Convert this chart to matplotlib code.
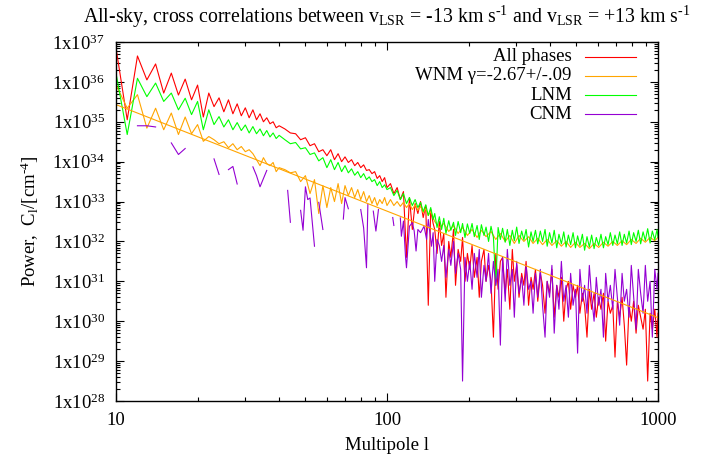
import matplotlib
matplotlib.use("Agg")
import matplotlib.pyplot as plt
import matplotlib.ticker as ticker
import numpy as np

plt.rcParams['font.family'] = ['Liberation Serif', 'DejaVu Serif']
plt.rcParams['mathtext.fontset'] = 'custom'
plt.rcParams['mathtext.rm'] = 'Liberation Serif'
plt.rcParams['mathtext.it'] = 'Liberation Serif:italic'

# multipoles (low l every integer, then coarser)
ell_low = [10, 11, 12, 13, 14, 15, 16, 17, 18, 19, 20, 21, 22, 23, 24, 25, 26, 27, 28, 29,
           30, 31, 32, 33, 34, 35, 36, 37, 38, 39, 40, 42, 44, 46, 48, 50, 52, 54, 56, 58]
ell_mid = [60, 62, 64, 66, 68, 70, 72, 74, 76, 78, 80, 82, 84, 86, 88, 90, 92, 94, 96, 98, 100,
           103, 106, 109, 112, 115, 118, 121, 124, 127, 130, 133, 136, 139, 142, 145, 148]
ell_hi = [150, 153, 156, 159, 162, 165, 169, 172, 176, 179, 183, 187, 190, 194, 198,
          202, 206, 210, 215, 219, 223, 228, 232, 237, 242, 247, 252, 257, 262,
          267, 273, 278, 284, 290, 295, 301, 307, 314, 320, 326, 333, 340, 346, 353,
          360, 368, 375, 383, 390, 398, 406, 414, 423, 431, 440, 449, 458, 467, 476, 486,
          496, 505, 515, 526, 536, 547, 558, 569, 581, 592, 604, 616, 629, 641, 654, 667,
          681, 694, 708, 722, 737, 751, 766, 782, 797, 813, 830, 846, 863, 881, 898, 916,
          935, 953, 973, 992, 1000]

# log10 of the power
all_low = [36.85, 35.05, 36.65, 36.05, 36.45, 35.72, 36.22, 35.67, 36.07, 35.55, 35.92, 35.12,
           35.72, 35.38, 35.60, 35.25, 35.55, 35.20, 35.45, 35.15, 35.35, 35.10, 35.30, 35.05,
           35.20, 35.00, 35.10, 34.95, 35.00, 34.85, 34.90,
           34.82, 34.72, 34.70, 34.55, 34.60, 34.40, 34.45, 34.25, 34.30]
all_mid = [34.15, 34.30, 34.05, 34.20, 34.00, 34.12, 33.98, 34.05, 33.90, 33.98, 33.85, 33.92,
           33.78, 33.80, 33.70, 33.75, 33.58, 33.65, 33.50, 33.60, 33.35,
           33.45, 33.20, 33.35, 33.05, 33.25, 31.60, 33.10, 32.30, 32.95, 32.70, 33.00, 32.60,
           32.90, 30.40, 32.80, 32.45]
all_hi = [32.3, 31.7, 32.5, 31.9, 32.2, 30.6, 32.0, 31.6, 32.3, 30.9, 31.8, 31.5, 32.1, 31.0, 31.7,
          31.3, 31.9, 31.1, 31.6, 30.6, 31.5, 31.8, 31.0, 31.4, 31.0, 29.6, 31.7, 30.8, 31.5,
          31.6, 30.7, 31.3, 30.3, 31.8, 31.0, 31.4, 30.6, 31.2, 30.9, 31.5, 30.4, 31.1, 30.8, 31.3,
          30.5, 31.2, 30.9, 30.2, 31.0, 30.7, 31.3, 30.1, 30.9, 30.6, 31.1, 30.0, 30.8, 31.0, 30.3, 30.9,
          30.6, 30.9, 30.2, 30.7, 30.4, 29.6, 30.8, 30.3, 30.7, 30.1, 30.6, 30.3, 30.7, 29.5, 30.5, 30.2,
          30.4, 29.1, 30.5, 30.1, 30.6, 29.9, 28.9, 30.4, 30.0, 30.5, 29.7, 30.4, 30.1, 29.8, 30.3, 28.5,
          30.2, 29.8, 30.3, 29.6, 30.2]

lnm_low = [36.22, 34.68, 36.09, 35.63, 35.97, 35.51, 35.72, 35.30, 35.59, 35.18, 35.51, 34.80,
           35.30, 34.93, 35.13, 34.87, 35.05, 34.80, 34.98, 34.78, 34.92, 34.72, 34.88, 34.70,
           34.82, 34.65, 34.78, 34.62, 34.72, 34.58, 34.66,
           34.55, 34.45, 34.48, 34.32, 34.35, 34.18, 34.22, 34.02, 34.10]
lnm_mid = [33.85, 34.05, 33.80, 33.98, 33.75, 33.90, 33.72, 33.82, 33.66, 33.75, 33.60, 33.70,
           33.55, 33.62, 33.50, 33.55, 33.40, 33.50, 33.35, 33.42, 33.30,
           33.35, 33.15, 33.28, 33.05, 33.20, 32.95, 33.10, 32.90, 33.05, 32.85, 32.98, 32.75,
           32.92, 32.65, 32.85, 32.55]
lnm_hi = [32.70, 32.35, 32.62, 32.30, 32.58, 32.20, 32.52, 32.28, 32.48, 32.15, 32.50, 32.22, 32.45, 32.10, 32.44,
          32.20, 32.45, 32.12, 32.40, 32.05, 32.42, 32.15, 32.36, 32.00, 32.38, 32.10, 30.90, 32.35, 32.05,
          32.33, 31.98, 32.30, 31.90, 32.28, 32.02, 32.36, 31.95, 32.26, 32.04, 32.30, 31.86, 32.24, 32.00, 32.28,
          31.94, 32.26, 32.00, 32.30, 31.88, 32.22, 31.96, 32.28, 31.84, 32.18, 31.94, 32.24, 31.86, 32.16, 31.92, 32.22,
          31.84, 32.14, 31.90, 32.18, 31.78, 32.12, 31.86, 32.16, 31.82, 32.10, 31.90, 32.18, 31.84, 32.12, 31.92, 32.22,
          31.90, 32.16, 31.94, 32.24, 31.90, 32.18, 31.96, 32.26, 31.92, 32.22, 32.00, 32.28, 31.94, 32.24, 32.02, 32.32,
          31.96, 32.26, 32.04, 32.30, 32.10]

wnm_low = [35.93, 35.34, 35.68, 34.84, 35.34, 34.80, 35.22, 34.68, 35.12, 34.70, 34.93, 34.51,
           34.63, 34.55, 34.45, 34.50, 34.35, 34.45, 34.30, 34.38, 34.25, 34.30, 34.20, 34.05,
           33.90, 34.10, 33.95, 33.90, 33.98, 33.75, 33.85,
           33.80, 33.72, 33.75, 33.50, 33.65, 33.20, 33.55, 32.70, 33.40]
wnm_mid = [32.85, 33.35, 33.00, 33.45, 32.95, 33.40, 33.15, 33.35, 33.10, 33.30, 33.05, 33.25,
           33.00, 33.15, 32.95, 33.10, 32.90, 33.05, 32.95, 33.10, 32.90,
           33.05, 32.90, 33.00, 32.88, 32.98, 32.85, 32.95, 32.80, 32.92, 32.78, 32.88, 32.72,
           32.82, 32.65, 32.75, 32.60]
wnm_hi_ell = [150, 156, 162, 169, 176, 183, 190, 198, 206, 215, 223, 232, 242, 252, 262, 273,
              284, 295, 307, 320, 333, 346, 360, 375, 390, 406, 423, 440, 458, 476, 496, 515,
              536, 558, 581, 604, 629, 654, 681, 708, 737, 766, 797, 830, 863, 898, 935, 973, 1000]
wnm_hi = [32.50, 32.35, 32.45, 32.25, 32.40, 32.20, 32.35, 32.15, 32.30, 32.10, 32.28, 32.12,
          32.25, 32.05, 32.20, 32.00, 32.15, 31.95, 32.15, 32.00, 32.12, 31.95, 32.08, 31.92,
          32.05, 31.90, 32.02, 31.88, 32.00, 31.85, 31.98, 31.85, 31.95, 31.82, 31.95, 31.85,
          31.98, 31.88, 32.00, 31.90, 32.02, 31.92, 32.05, 31.95, 32.08, 31.98, 32.10, 32.02, 32.10]

# CNM: gaps (nan) where the power is negative
cnm_ell = [12, 13, 14, 15, 16, 17, 18, 19, 23, 24, 25, 26, 27, 28, 29, 32, 33, 34, 36, 37,
           43, 44, 45, 48, 49, 50, 51, 52, 54, 55, 56, 58, 59, 69, 70, 72, 73, 80, 82, 84, 85, 86,
           89, 91, 93, 94, 105, 106, 107,
           112, 113, 115, 117, 118, 121, 124, 126, 128, 130, 133, 137, 140, 142, 146, 148]
cnm_low = [34.90, 34.90, 34.87, np.nan, 34.47, 34.18, 34.33, np.nan, 34.07, 33.68, np.nan,
           33.80, 33.88, 33.44, np.nan, 33.87, 33.65, 33.37, 33.78, np.nan, 33.28, 32.48, np.nan,
           32.78, 32.28, 33.37, 33.05, 33.09, 31.88, np.nan, 32.98, 32.30, np.nan, 32.56, 33.10,
           32.82, np.nan, 32.80, 32.34, 31.34, 32.93, np.nan, 32.76, 32.26, 32.80, np.nan,
           32.60, 32.40, np.nan,
           32.59, 32.13, 32.51, 31.63, 31.34, 32.38, 32.47, 32.26, 31.76, 32.30, 32.22, 32.38,
           32.05, 32.55, 31.88, 32.22]
cnm_hi = [31.0, 32.05, 31.9, 31.5, 31.9, 31.1, 31.8, 31.4, 32.0, 31.2, 31.7, 31.3, 28.5, 31.6, 31.0,
          31.5, 30.8, 31.7, 31.1, 31.8, 30.6, 31.4, 31.0, 31.7, 30.7, 31.5, 30.9, 31.3, 29.4,
          31.6, 30.5, 31.8, 30.9, 31.3, 30.1, 31.5, 30.7, 31.1, 30.4, 31.4, 30.8, 31.0, 30.2, 31.2,
          30.6, 31.3, 30.4, 29.6, 31.0, 30.6, 31.4, 29.7, 30.9, 30.3, 31.5, 30.5, 30.9, 30.1, 31.2, 30.4,
          30.8, 29.2, 31.3, 30.5, 30.9, 30.2, 31.4, 30.6, 30.0, 31.1, 30.4, 30.8, 29.6, 31.2, 30.5, 30.9,
          30.3, 31.3, 30.6, 29.9, 31.2, 30.5, 30.8, 30.1, 31.4, 30.6, 29.8, 31.3, 30.7, 30.2, 31.4, 30.5,
          31.0, 29.6, 31.3, 30.8, 31.2]

# WNM power-law fit, gamma = -2.67
fit_ell = [10, 1000]
fit_log = [35.43, 30.09]

RED = '#ff0000'
ORANGE = '#ffa500'
GREEN = '#00ff00'
PURPLE = '#9400d3'
FS = 13.5

ell_all = ell_low + ell_mid + ell_hi

fig = plt.figure(figsize=(7.11, 4.65), dpi=100)
ax = fig.add_axes([116 / 711, 1 - 401 / 465, 542 / 711, 359 / 465])

lw = 0.8
ax.plot(ell_all, 10 ** np.array(all_low + all_mid + all_hi), color=RED, lw=lw)
ax.plot(ell_low + ell_mid + wnm_hi_ell, 10 ** np.array(wnm_low + wnm_mid + wnm_hi), color=ORANGE, lw=lw)
ax.plot(ell_all, 10 ** np.array(lnm_low + lnm_mid + lnm_hi), color=GREEN, lw=lw)
ax.plot(cnm_ell + ell_hi, 10 ** np.array(cnm_low + cnm_hi), color=PURPLE, lw=lw)
ax.plot(fit_ell, 10 ** np.array(fit_log), color=ORANGE, lw=lw)

ax.set_xscale('log')
ax.set_yscale('log')
ax.set_xlim(10, 1000)
ax.set_ylim(1e28, 1e37)

ax.set_xticks([10, 100, 1000], labels=['10', '100', '1000'])
ax.xaxis.set_minor_locator(ticker.LogLocator(base=10, subs=np.arange(2, 10)))
ax.xaxis.set_minor_formatter(ticker.NullFormatter())
yt = [10.0 ** k for k in range(28, 38)]
ax.set_yticks(yt, labels=[r'1x10$^{%d}$' % k for k in range(28, 38)])
ax.yaxis.set_minor_locator(ticker.LogLocator(base=10, subs=np.arange(2, 10), numticks=20))
ax.yaxis.set_minor_formatter(ticker.NullFormatter())

ax.tick_params(which='both', direction='in', top=True, right=True, labelsize=FS, width=0.8)
ax.tick_params(which='major', length=6)
ax.tick_params(which='minor', length=3)
ax.tick_params(axis='y', pad=8)
ax.tick_params(axis='x', pad=8)
for s in ax.spines.values():
    s.set_linewidth(1.0)

ax.set_xlabel('Multipole l', fontsize=FS, labelpad=6)
ax.set_ylabel(r'Power,  C$_{\rm l}$/[cm$^{\text{-4}}$]', fontsize=FS, labelpad=8)
ax.set_title(r'All-sky, cross correlations between v$_{\rm LSR}$ = -13 km s$^{\text{-1}}$'
             r' and v$_{\rm LSR}$ = +13 km s$^{\text{-1}}$', fontsize=14.3, pad=14)

# gnuplot-style key: right-justified text, sample line on the right
names = ['All phases', 'WNM γ=-2.67+/-.09', 'LNM', 'CNM']
cols = [RED, ORANGE, GREEN, PURPLE]
for i, (nm, c) in enumerate(zip(names, cols)):
    yy = 0.959 - i * 0.0535
    ax.text(0.841, yy, nm, transform=ax.transAxes, ha='right', va='center', fontsize=FS)
    ax.plot([0.865, 0.959], [yy, yy], transform=ax.transAxes, color=c, lw=lw)

fig.savefig('out.png', dpi=100)
